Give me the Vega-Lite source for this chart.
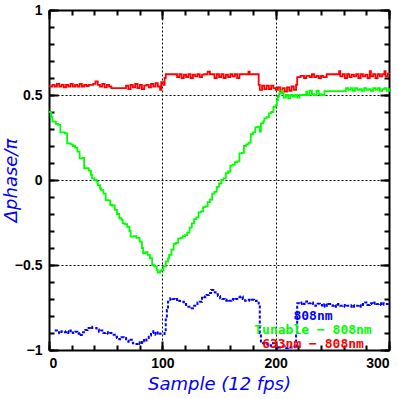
{
  "$schema": "https://vega.github.io/schema/vega-lite/v6.json",
  "width": 340,
  "height": 340,
  "autosize": {"type": "none"},
  "padding": {"left": 49, "top": 10, "right": 10, "bottom": 49},
  "background": "white",
  "config": {
    "view": {"stroke": null},
    "axis": {
      "domainColor": "black", "domainWidth": 2, "tickColor": "black", "tickWidth": 2,
      "labelFont": "Liberation Sans", "labelFontWeight": "bold", "labelFontSize": 14, "labelColor": "black",
      "gridColor": "black", "gridDash": [2, 2], "gridWidth": 1, "gridOpacity": 1
    }
  },
  "datasets": {
    "red": [
      {"x":0,"y":0.55},{"x":3,"y":0.56},{"x":5,"y":0.55},{"x":7,"y":0.565},{"x":9,"y":0.55},{"x":11,"y":0.56},{"x":13,"y":0.545},{"x":15,"y":0.56},{"x":17,"y":0.55},{"x":19,"y":0.565},{"x":21,"y":0.55},{"x":23,"y":0.56},{"x":25,"y":0.55},{"x":27,"y":0.565},{"x":29,"y":0.55},{"x":31,"y":0.56},{"x":33,"y":0.553},{"x":35,"y":0.56},{"x":39,"y":0.565},{"x":41,"y":0.58},{"x":43,"y":0.56},{"x":45,"y":0.55},{"x":47,"y":0.565},{"x":49,"y":0.545},{"x":51,"y":0.56},{"x":53,"y":0.55},{"x":55,"y":0.54},{"x":68,"y":0.555},{"x":70,"y":0.535},{"x":72,"y":0.56},{"x":74,"y":0.545},{"x":76,"y":0.565},{"x":78,"y":0.54},{"x":80,"y":0.56},{"x":82,"y":0.535},{"x":84,"y":0.555},{"x":86,"y":0.56},{"x":88,"y":0.545},{"x":90,"y":0.565},{"x":92,"y":0.55},{"x":94,"y":0.57},{"x":96,"y":0.55},{"x":98,"y":0.53},{"x":99,"y":0.575},{"x":101,"y":0.56},{"x":102,"y":0.6},{"x":103,"y":0.622},{"x":113,"y":0.605},{"x":115,"y":0.622},{"x":117,"y":0.6},{"x":119,"y":0.62},{"x":121,"y":0.605},{"x":123,"y":0.622},{"x":125,"y":0.6},{"x":127,"y":0.62},{"x":129,"y":0.61},{"x":131,"y":0.622},{"x":133,"y":0.605},{"x":135,"y":0.62},{"x":137,"y":0.622},{"x":140,"y":0.638},{"x":142,"y":0.622},{"x":146,"y":0.6},{"x":148,"y":0.622},{"x":150,"y":0.605},{"x":152,"y":0.622},{"x":154,"y":0.6},{"x":156,"y":0.62},{"x":158,"y":0.605},{"x":160,"y":0.622},{"x":162,"y":0.61},{"x":164,"y":0.622},{"x":166,"y":0.6},{"x":168,"y":0.622},{"x":176,"y":0.638},{"x":177,"y":0.622},{"x":185,"y":0.56},{"x":186,"y":0.53},{"x":188,"y":0.555},{"x":190,"y":0.535},{"x":192,"y":0.555},{"x":194,"y":0.535},{"x":196,"y":0.555},{"x":198,"y":0.54},{"x":200,"y":0.53},{"x":202,"y":0.545},{"x":204,"y":0.52},{"x":206,"y":0.54},{"x":208,"y":0.52},{"x":210,"y":0.545},{"x":212,"y":0.525},{"x":214,"y":0.55},{"x":216,"y":0.53},{"x":218,"y":0.56},{"x":219,"y":0.605},{"x":222,"y":0.612},{"x":225,"y":0.6},{"x":227,"y":0.612},{"x":230,"y":0.605},{"x":232,"y":0.622},{"x":234,"y":0.605},{"x":236,"y":0.612},{"x":238,"y":0.6},{"x":240,"y":0.612},{"x":242,"y":0.605},{"x":245,"y":0.622},{"x":256,"y":0.64},{"x":257,"y":0.61},{"x":259,"y":0.622},{"x":261,"y":0.6},{"x":263,"y":0.622},{"x":265,"y":0.605},{"x":267,"y":0.62},{"x":269,"y":0.61},{"x":271,"y":0.622},{"x":273,"y":0.6},{"x":275,"y":0.622},{"x":277,"y":0.61},{"x":279,"y":0.62},{"x":281,"y":0.6},{"x":283,"y":0.64},{"x":284,"y":0.61},{"x":286,"y":0.622},{"x":288,"y":0.6},{"x":290,"y":0.622},{"x":292,"y":0.61},{"x":294,"y":0.622},{"x":296,"y":0.64},{"x":297,"y":0.61},{"x":299,"y":0.625},{"x":300,"y":0.62}
    ],
    "green": [
      {"x":0,"y":0.4},{"x":2,"y":0.37},{"x":3,"y":0.343},{"x":6,"y":0.33},{"x":8,"y":0.324},{"x":10,"y":0.28},{"x":14,"y":0.275},{"x":16,"y":0.216},{"x":19,"y":0.21},{"x":21,"y":0.2},{"x":23,"y":0.19},{"x":25,"y":0.167},{"x":27,"y":0.127},{"x":30,"y":0.13},{"x":31,"y":0.069},{"x":33,"y":0.07},{"x":35,"y":0.055},{"x":37,"y":0.03},{"x":38,"y":0.01},{"x":40,"y":0.0},{"x":42,"y":-0.01},{"x":43,"y":-0.03},{"x":45,"y":-0.05},{"x":46,"y":-0.06},{"x":48,"y":-0.08},{"x":50,"y":-0.118},{"x":52,"y":-0.12},{"x":54,"y":-0.147},{"x":56,"y":-0.15},{"x":58,"y":-0.176},{"x":60,"y":-0.2},{"x":62,"y":-0.225},{"x":64,"y":-0.235},{"x":65,"y":-0.255},{"x":67,"y":-0.26},{"x":69,"y":-0.275},{"x":71,"y":-0.3},{"x":72,"y":-0.333},{"x":75,"y":-0.33},{"x":77,"y":-0.34},{"x":80,"y":-0.363},{"x":82,"y":-0.4},{"x":83,"y":-0.431},{"x":85,"y":-0.425},{"x":87,"y":-0.44},{"x":89,"y":-0.46},{"x":91,"y":-0.5},{"x":93,"y":-0.51},{"x":95,"y":-0.53},{"x":96,"y":-0.545},{"x":98,"y":-0.535},{"x":99,"y":-0.53},{"x":101,"y":-0.51},{"x":103,"y":-0.48},{"x":105,"y":-0.461},{"x":106,"y":-0.44},{"x":108,"y":-0.41},{"x":110,"y":-0.375},{"x":112,"y":-0.37},{"x":114,"y":-0.345},{"x":116,"y":-0.34},{"x":118,"y":-0.33},{"x":120,"y":-0.324},{"x":122,"y":-0.31},{"x":124,"y":-0.28},{"x":126,"y":-0.255},{"x":128,"y":-0.23},{"x":130,"y":-0.22},{"x":132,"y":-0.19},{"x":134,"y":-0.185},{"x":136,"y":-0.16},{"x":138,"y":-0.155},{"x":140,"y":-0.13},{"x":142,"y":-0.115},{"x":144,"y":-0.08},{"x":146,"y":-0.07},{"x":148,"y":-0.04},{"x":150,"y":-0.02},{"x":152,"y":0.0},{"x":154,"y":0.01},{"x":156,"y":0.04},{"x":158,"y":0.05},{"x":160,"y":0.085},{"x":162,"y":0.09},{"x":164,"y":0.105},{"x":166,"y":0.11},{"x":168,"y":0.157},{"x":170,"y":0.16},{"x":172,"y":0.2},{"x":174,"y":0.21},{"x":176,"y":0.22},{"x":178,"y":0.27},{"x":180,"y":0.28},{"x":182,"y":0.31},{"x":184,"y":0.314},{"x":186,"y":0.285},{"x":187,"y":0.333},{"x":189,"y":0.345},{"x":190,"y":0.363},{"x":192,"y":0.37},{"x":194,"y":0.392},{"x":196,"y":0.4},{"x":198,"y":0.43},{"x":200,"y":0.44},{"x":201,"y":0.47},{"x":202,"y":0.49},{"x":203,"y":0.51},{"x":205,"y":0.525},{"x":206,"y":0.51},{"x":207,"y":0.485},{"x":209,"y":0.5},{"x":211,"y":0.48},{"x":213,"y":0.5},{"x":215,"y":0.49},{"x":217,"y":0.5},{"x":219,"y":0.485},{"x":221,"y":0.5},{"x":227,"y":0.52},{"x":228,"y":0.5},{"x":230,"y":0.525},{"x":232,"y":0.505},{"x":234,"y":0.5},{"x":236,"y":0.525},{"x":238,"y":0.505},{"x":240,"y":0.5},{"x":243,"y":0.523},{"x":262,"y":0.54},{"x":264,"y":0.53},{"x":266,"y":0.54},{"x":268,"y":0.525},{"x":270,"y":0.54},{"x":272,"y":0.53},{"x":274,"y":0.535},{"x":276,"y":0.525},{"x":278,"y":0.54},{"x":280,"y":0.53},{"x":282,"y":0.535},{"x":284,"y":0.525},{"x":286,"y":0.54},{"x":288,"y":0.53},{"x":290,"y":0.54},{"x":292,"y":0.525},{"x":294,"y":0.535},{"x":296,"y":0.54},{"x":298,"y":0.525},{"x":300,"y":0.54}
    ],
    "blue": [
      {"x":5,"y":-0.885},{"x":7,"y":-0.895},{"x":9,"y":-0.902},{"x":11,"y":-0.89},{"x":13,"y":-0.895},{"x":15,"y":-0.89},{"x":17,"y":-0.9},{"x":19,"y":-0.885},{"x":21,"y":-0.9},{"x":23,"y":-0.892},{"x":25,"y":-0.905},{"x":27,"y":-0.9},{"x":28,"y":-0.912},{"x":30,"y":-0.895},{"x":32,"y":-0.882},{"x":34,"y":-0.87},{"x":36,"y":-0.863},{"x":38,"y":-0.87},{"x":42,"y":-0.88},{"x":44,"y":-0.892},{"x":46,"y":-0.885},{"x":48,"y":-0.9},{"x":50,"y":-0.895},{"x":52,"y":-0.905},{"x":54,"y":-0.9},{"x":56,"y":-0.91},{"x":58,"y":-0.922},{"x":60,"y":-0.93},{"x":62,"y":-0.937},{"x":64,"y":-0.925},{"x":66,"y":-0.93},{"x":68,"y":-0.945},{"x":70,"y":-0.951},{"x":72,"y":-0.94},{"x":74,"y":-0.961},{"x":76,"y":-0.965},{"x":78,"y":-0.955},{"x":80,"y":-0.965},{"x":82,"y":-0.941},{"x":84,"y":-0.95},{"x":86,"y":-0.93},{"x":88,"y":-0.915},{"x":90,"y":-0.9},{"x":92,"y":-0.89},{"x":94,"y":-0.91},{"x":96,"y":-0.895},{"x":98,"y":-0.905},{"x":100,"y":-0.906},{"x":102,"y":-0.9},{"x":103,"y":-0.82},{"x":104,"y":-0.765},{"x":105,"y":-0.716},{"x":107,"y":-0.696},{"x":109,"y":-0.7},{"x":111,"y":-0.706},{"x":113,"y":-0.7},{"x":115,"y":-0.712},{"x":117,"y":-0.716},{"x":119,"y":-0.73},{"x":121,"y":-0.735},{"x":123,"y":-0.745},{"x":125,"y":-0.755},{"x":127,"y":-0.74},{"x":129,"y":-0.73},{"x":131,"y":-0.72},{"x":133,"y":-0.716},{"x":135,"y":-0.686},{"x":137,"y":-0.69},{"x":139,"y":-0.676},{"x":141,"y":-0.665},{"x":143,"y":-0.647},{"x":145,"y":-0.66},{"x":147,"y":-0.672},{"x":149,"y":-0.682},{"x":151,"y":-0.696},{"x":153,"y":-0.7},{"x":155,"y":-0.71},{"x":157,"y":-0.705},{"x":159,"y":-0.71},{"x":161,"y":-0.7},{"x":163,"y":-0.705},{"x":165,"y":-0.7},{"x":167,"y":-0.69},{"x":169,"y":-0.686},{"x":171,"y":-0.7},{"x":173,"y":-0.71},{"x":175,"y":-0.705},{"x":177,"y":-0.71},{"x":179,"y":-0.705},{"x":181,"y":-0.712},{"x":183,"y":-0.71},{"x":185,"y":-0.727},{"x":186,"y":-0.9},{"x":187,"y":-0.96},{"x":190,"y":-0.965},{"x":193,"y":-0.975},{"x":196,"y":-0.96},{"x":199,"y":-0.98},{"x":202,"y":-0.985},{"x":205,"y":-0.98},{"x":208,"y":-0.99},{"x":211,"y":-0.985},{"x":214,"y":-0.98},{"x":217,"y":-0.99},{"x":218,"y":-0.9},{"x":219,"y":-0.725},{"x":221,"y":-0.73},{"x":223,"y":-0.72},{"x":225,"y":-0.73},{"x":227,"y":-0.715},{"x":229,"y":-0.725},{"x":231,"y":-0.72},{"x":233,"y":-0.73},{"x":235,"y":-0.74},{"x":237,"y":-0.728},{"x":239,"y":-0.735},{"x":241,"y":-0.745},{"x":243,"y":-0.73},{"x":245,"y":-0.74},{"x":247,"y":-0.73},{"x":249,"y":-0.74},{"x":251,"y":-0.735},{"x":253,"y":-0.745},{"x":255,"y":-0.73},{"x":257,"y":-0.74},{"x":259,"y":-0.735},{"x":261,"y":-0.745},{"x":263,"y":-0.74},{"x":265,"y":-0.745},{"x":267,"y":-0.735},{"x":269,"y":-0.745},{"x":271,"y":-0.74},{"x":273,"y":-0.735},{"x":275,"y":-0.745},{"x":277,"y":-0.73},{"x":279,"y":-0.72},{"x":281,"y":-0.735},{"x":283,"y":-0.725},{"x":285,"y":-0.73},{"x":287,"y":-0.72},{"x":289,"y":-0.73},{"x":291,"y":-0.725},{"x":293,"y":-0.735},{"x":295,"y":-0.725},{"x":297,"y":-0.73},{"x":299,"y":-0.72}
    ]
  },
  "resolve": {"axis": {"x": "independent", "y": "independent"}},
  "layer": [
    {
      "data": {"name": "red"},
      "mark": {"type": "line", "interpolate": "step-after", "strokeWidth": 1.8},
      "encoding": {
        "x": {"field": "x", "type": "quantitative",
          "scale": {"domain": [0, 300], "nice": false, "zero": false},
          "axis": {"orient": "bottom", "values": [0, 100, 200, 300], "tickSize": -9, "format": "d", "labelPadding": 15,
            "grid": true, "title": "Sample (12 fps)", "titleColor": "#0000ff", "titleFont": "DejaVu Sans", "titleFontStyle": "italic", "titleFontWeight": "normal", "titleFontSize": 18, "titlePadding": 5}},
        "y": {"field": "y", "type": "quantitative",
          "scale": {"domain": [-1, 1], "nice": false, "zero": false},
          "axis": {"orient": "left", "values": [-1, -0.5, 0, 0.5, 1], "tickSize": -9, "format": ".1~f", "labelPadding": 16,
            "grid": true, "title": "Δphase/π", "titleColor": "#0000ff", "titleFont": "DejaVu Sans", "titleFontStyle": "italic", "titleFontWeight": "normal", "titleFontSize": 18, "titlePadding": -6}},
        "color": {"datum": "633nm − 808nm", "type": "nominal",
          "scale": {"domain": ["808nm", "Tunable − 808nm", "633nm − 808nm"], "range": ["#0000ff", "#00ff00", "#ff0000"]},
          "legend": {"orient": "none", "legendX": 251, "legendY": 299, "title": null, "padding": 0,
            "symbolSize": 0, "symbolOpacity": 0, "symbolStrokeWidth": 0, "labelOffset": 0, "labelAlign": "center",
            "labelFont": "DejaVu Sans Mono", "labelFontWeight": "bold", "labelFontSize": 13, "rowPadding": -1,
            "encode": {"labels": {"update": {"fill": {"scale": "color", "field": "value"}}}}}}
      }
    },
    {
      "data": {"name": "green"},
      "mark": {"type": "line", "interpolate": "step-after", "strokeWidth": 1.8},
      "encoding": {
        "x": {"field": "x", "type": "quantitative",
          "axis": {"orient": "top", "values": [0, 100, 200, 300], "tickSize": -9, "labels": false, "title": null, "grid": false}},
        "y": {"field": "y", "type": "quantitative",
          "axis": {"orient": "right", "values": [-1, -0.5, 0, 0.5, 1], "tickSize": -9, "labels": false, "title": null, "grid": false}},
        "color": {"datum": "Tunable − 808nm", "type": "nominal"}
      }
    },
    {
      "data": {"name": "blue"},
      "mark": {"type": "line", "interpolate": "step-after", "strokeWidth": 2, "strokeDash": [3, 2]},
      "encoding": {
        "x": {"field": "x", "type": "quantitative",
          "axis": {"orient": "bottom", "values": [0,20,40,60,80,100,120,140,160,180,200,220,240,260,280,300], "tickSize": -5, "labels": false, "domain": false, "title": null, "grid": false}},
        "y": {"field": "y", "type": "quantitative",
          "axis": {"orient": "left", "values": [-1,-0.9,-0.8,-0.7,-0.6,-0.5,-0.4,-0.3,-0.2,-0.1,0,0.1,0.2,0.3,0.4,0.5,0.6,0.7,0.8,0.9,1], "tickSize": -5, "labels": false, "domain": false, "title": null, "grid": false}},
        "color": {"datum": "808nm", "type": "nominal"}
      }
    },
    {
      "data": {"name": "blue"},
      "mark": {"type": "point", "opacity": 0},
      "encoding": {
        "x": {"field": "x", "type": "quantitative",
          "axis": {"orient": "top", "values": [0,20,40,60,80,100,120,140,160,180,200,220,240,260,280,300], "tickSize": -5, "labels": false, "domain": false, "title": null, "grid": false}},
        "y": {"field": "y", "type": "quantitative",
          "axis": {"orient": "right", "values": [-1,-0.9,-0.8,-0.7,-0.6,-0.5,-0.4,-0.3,-0.2,-0.1,0,0.1,0.2,0.3,0.4,0.5,0.6,0.7,0.8,0.9,1], "tickSize": -5, "labels": false, "domain": false, "title": null, "grid": false}}
      }
    }
  ]
}
